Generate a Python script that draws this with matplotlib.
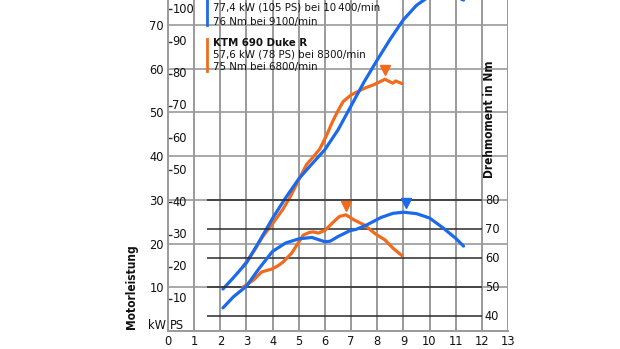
import numpy as np
import matplotlib.pyplot as plt
from matplotlib.transforms import offset_copy

plt.rcParams['font.family'] = ['DejaVu Sans']
plt.rcParams['font.stretch'] = 'condensed'

# engine speed in 1000/min
blue_rpm_p = [2.1, 2.5, 3.0, 3.5, 4.0, 4.5, 5.0, 5.5, 6.0, 6.5, 7.0, 7.5, 8.0, 8.5, 9.0, 9.5, 10.0, 10.4, 10.8, 11.3]
blue_kw = [9.6, 12.2, 15.6, 20.6, 25.8, 30.5, 34.8, 38.2, 41.5, 46.0, 51.5, 57.0, 62.0, 66.8, 71.2, 74.5, 76.6, 77.4, 77.0, 75.7]

blue_rpm_t = [2.1, 2.5, 3.0, 3.5, 4.0, 4.5, 5.0, 5.5, 5.8, 6.0, 6.2, 6.5, 6.95, 7.2, 7.6, 8.15, 8.6, 9.0, 9.5, 10.0, 10.5, 11.0, 11.3]
blue_nm = [42.8, 46.6, 50.3, 56.6, 62.3, 65.2, 66.6, 67.1, 66.2, 65.6, 65.8, 67.4, 69.4, 69.9, 71.4, 74.0, 75.4, 75.8, 75.3, 73.8, 70.5, 66.8, 64.1]

orange_rpm_p = [2.87, 3.0, 3.3, 3.6, 4.0, 4.4, 4.7, 5.0, 5.3, 5.55, 5.8, 6.05, 6.3, 6.5, 6.7, 7.0, 7.2, 7.5, 7.85, 8.1, 8.3, 8.45, 8.6, 8.7, 8.95]
orange_kw = [14.8, 15.8, 18.4, 21.4, 24.6, 27.9, 31.0, 34.6, 38.1, 39.8, 41.6, 44.6, 48.0, 50.4, 52.5, 54.0, 54.6, 55.5, 56.3, 57.0, 57.6, 57.1, 56.7, 57.2, 56.6]

orange_rpm_t = [2.87, 3.0, 3.27, 3.58, 3.97, 4.2, 4.4, 4.73, 4.98, 5.17, 5.4, 5.55, 5.75, 6.0, 6.3, 6.55, 6.8, 7.1, 7.5, 7.95, 8.3, 8.6, 8.95]
orange_nm = [50.0, 50.8, 52.4, 55.2, 56.2, 57.3, 58.6, 61.7, 65.2, 67.9, 68.8, 69.0, 68.6, 69.5, 72.2, 74.3, 74.9, 73.2, 71.4, 68.2, 66.2, 63.4, 60.8]

# peak markers (rpm, value)
blue_peak_nm = (9.1, 75.9)
orange_peak_nm = (6.8, 74.9)
orange_peak_kw = (8.3, 57.6)

kw_ticks = [10, 20, 30, 40, 50, 60, 70]
ps_ticks = [10, 20, 30, 40, 50, 60, 70, 80, 90, 100]
nm_ticks = [40, 50, 60, 70, 80]
rpm_ticks = list(range(0, 14))

blue_text = ["77,4 kW (105 PS) bei 10\u2009400/min", "76 Nm bei 9100/min"]
orange_text = ["KTM 690 Duke R", "57,6 kW (78 PS) bei 8300/min", "75 Nm bei 6800/min"]

BLUE = '#1a6aeb'
ORANGE = '#f26b1d'
GRID = '#9a9a9a'
DARK = '#2a2a2a'
TXT = '#111111'
FS = 9.2   # tick numbers
FL = 8.2   # legend text

fig = plt.figure(figsize=(6.2, 3.49), dpi=100)
ax = fig.add_axes([168 / 620, 18 / 349, 340 / 620, 331 / 349])
ax.set_xlim(0, 13)
ax.set_ylim(0, 75.72)
ax2 = ax.twinx()
ax2.set_ylim(34.83, 148.97)
ax2.set_axis_off()

for s in ['top', 'right']:
    ax.spines[s].set_visible(False)
for s in ['left', 'bottom']:
    ax.spines[s].set_color(GRID)
    ax.spines[s].set_linewidth(1.4)

# grid
ax.vlines(rpm_ticks[1:], 0, 75.72, color=GRID, lw=1.4, zorder=1)
ax.hlines(kw_ticks, 0, 13, color=GRID, lw=1.2, zorder=1)
ax2.hlines(nm_ticks, 1.5, 12, color=DARK, lw=1.1, zorder=1)

ax.set_xticks(rpm_ticks)
ax.set_xticklabels([str(v) for v in rpm_ticks])
ax.set_yticks(kw_ticks)
ax.set_yticklabels([str(v) for v in kw_ticks])
ax.tick_params(length=0, labelsize=FS, colors=TXT, pad=3)
ax.tick_params(axis='x', pad=3)

# PS scale inside left axis
ps_kw = [p * 0.7355 for p in ps_ticks]
ax.hlines(ps_kw, 0, 0.15, color=DARK, lw=1.0, zorder=2)
for p, k in zip(ps_ticks, ps_kw):
    ax.text(0.17, k, str(p), ha='left', va='center', fontsize=FS, color=TXT)

# torque labels
for v in nm_ticks:
    ax2.text(12.12, v, str(v), ha='left', va='center', fontsize=FS, color=TXT)

ax.text(-0.08, 1.3, 'kW', ha='right', va='center', fontsize=FS, color=TXT)
ax.text(0.06, 1.3, 'PS', ha='left', va='center', fontsize=FS, color=TXT)
ax.text(-1.38, 0.4, 'Motorleistung', rotation=90, ha='center', va='bottom',
        fontsize=8.6, fontweight='bold', color=TXT)
ax.text(12.31, 35.0, 'Drehmoment in Nm', rotation=90, ha='center', va='bottom',
        fontsize=8.6, fontweight='bold', color=TXT)

# curves
ax.plot(blue_rpm_p, blue_kw, color=BLUE, lw=2.3, solid_capstyle='round', zorder=4)
ax.plot(orange_rpm_p, orange_kw, color=ORANGE, lw=2.3, solid_capstyle='round', zorder=3)
ax2.plot(blue_rpm_t, blue_nm, color=BLUE, lw=2.3, solid_capstyle='round', zorder=4)
ax2.plot(orange_rpm_t, orange_nm, color=ORANGE, lw=2.3, solid_capstyle='round', zorder=3)

# peak triangles
up = offset_copy(ax2.transData, fig=fig, y=6.5, units='points')
ax2.plot(*blue_peak_nm, marker='v', color=BLUE, ms=7, transform=up)
ax2.plot(*orange_peak_nm, marker='v', color=ORANGE, ms=7, transform=up)
up1 = offset_copy(ax.transData, fig=fig, y=6.5, units='points')
ax.plot(*orange_peak_kw, marker='v', color=ORANGE, ms=7, transform=up1)

# legend blocks
ax.plot([1.5, 1.5], [70.0, 78], color=BLUE, lw=2, clip_on=False)
ax.plot([1.5, 1.5], [59.4, 66.8], color=ORANGE, lw=2, clip_on=False)
ax.text(1.73, 74.0, blue_text[0], ha='left', va='center', fontsize=FL, color=TXT)
ax.text(1.73, 70.6, blue_text[1], ha='left', va='center', fontsize=FL, color=TXT)
ax.text(1.73, 65.8, orange_text[0], ha='left', va='center', fontsize=FL, fontweight='bold', color=TXT)
ax.text(1.73, 63.2, orange_text[1], ha='left', va='center', fontsize=FL, color=TXT)
ax.text(1.73, 60.3, orange_text[2], ha='left', va='center', fontsize=FL, color=TXT)

fig.savefig('out.png', dpi=100)
